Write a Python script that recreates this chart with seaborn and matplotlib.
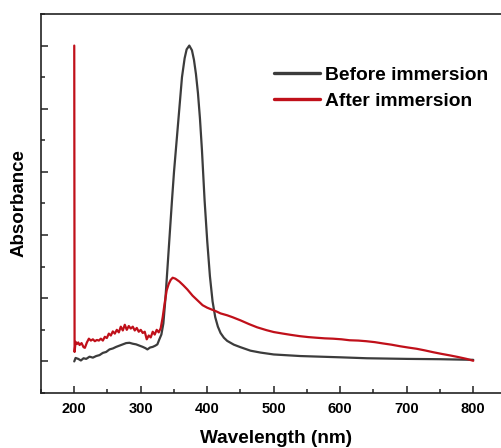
import matplotlib
matplotlib.use("Agg")
import matplotlib.pyplot as plt
from matplotlib.ticker import MultipleLocator, NullFormatter
from matplotlib.font_manager import FontProperties
import seaborn as sns
import pandas as pd

# ---- data ----
black_wl = [200, 202, 206, 210, 214, 218, 223, 228, 233, 238, 243, 248, 253, 258, 263, 268, 273, 278,
            283, 288, 293, 298, 303, 307, 310, 314, 318, 322, 325, 328, 331, 334, 337, 340, 343, 347,
            350, 354, 358, 362, 366, 369, 373, 377, 380, 383, 386, 389, 392, 396, 400, 404, 408, 412, 416,
            420, 425, 430, 440, 450, 465, 480, 500, 540, 600, 640, 700, 750, 800]
black_abs = [0.0, 0.011, 0.008, 0.003, 0.010, 0.008, 0.015, 0.012, 0.017, 0.020, 0.027, 0.030,
             0.038, 0.041, 0.046, 0.050, 0.054, 0.058, 0.059, 0.056, 0.054, 0.050, 0.046, 0.042,
             0.038, 0.044, 0.046, 0.050, 0.054, 0.070, 0.085, 0.12, 0.196, 0.29, 0.385, 0.511,
             0.60, 0.70, 0.80, 0.90, 0.96, 0.988, 1.0, 0.985, 0.955, 0.91, 0.85, 0.77, 0.67,
             0.51, 0.38, 0.27, 0.19, 0.14, 0.11, 0.09, 0.075, 0.065, 0.053, 0.045, 0.034,
             0.028, 0.022, 0.017, 0.013, 0.010, 0.008, 0.007, 0.005]

red_wl = [200, 200.5, 202, 204, 206, 208, 211, 214, 216, 219, 222, 225, 228, 231, 234, 237, 240, 243,
          246, 249, 252, 255, 258, 261, 264, 267, 270, 273, 276, 279, 282, 285, 288, 291, 294, 297,
          300, 303, 306, 309, 312, 315, 318, 321, 324, 327, 330, 333, 336, 339, 342, 345, 348, 352,
          358, 364, 370, 378, 386, 393, 400, 407, 413, 420, 430, 438, 450, 463, 475, 489, 500, 514,
          526, 539, 552, 564, 577, 589, 602, 614, 627, 639, 652, 664, 677, 690, 702, 715, 727, 740,
          752, 765, 777, 790, 800]
red_abs = [1.0, 0.03, 0.062, 0.055, 0.060, 0.052, 0.058, 0.045, 0.043, 0.060, 0.072, 0.066,
           0.070, 0.064, 0.068, 0.066, 0.072, 0.066, 0.078, 0.074, 0.088, 0.082, 0.095, 0.088,
           0.100, 0.092, 0.110, 0.098, 0.116, 0.100, 0.112, 0.104, 0.110, 0.098, 0.106, 0.094,
           0.100, 0.090, 0.094, 0.070, 0.082, 0.076, 0.094, 0.085, 0.100, 0.092, 0.105, 0.140,
           0.185, 0.225, 0.245, 0.258, 0.265, 0.262, 0.253, 0.241, 0.228, 0.208, 0.192, 0.178,
           0.170, 0.164, 0.159, 0.152, 0.146, 0.140, 0.130, 0.118, 0.108, 0.099, 0.093, 0.088,
           0.084, 0.080, 0.077, 0.075, 0.073, 0.072, 0.070, 0.067, 0.066, 0.064, 0.061, 0.057,
           0.053, 0.048, 0.044, 0.040, 0.035, 0.029, 0.024, 0.019, 0.014, 0.008, 0.002]

series_names = ["Before immersion", "After immersion"]
series_colors = ["#3c3c3c", "#c0101a"]
x_ticks = [200, 300, 400, 500, 600, 700, 800]
x_label = "Wavelength (nm)"
y_label = "Absorbance"

# ---- style ----
sns.set_theme(style="ticks")
plt.rcParams["font.family"] = ["Liberation Sans", "DejaVu Sans"]
plt.rcParams["font.weight"] = "bold"

def fp(size):
    return FontProperties(family="Liberation Sans", weight="bold", size=size)

fig = plt.figure(figsize=(5.02, 4.48), dpi=100)
fig.patch.set_facecolor("white")
ax = fig.add_axes([41 / 502, 55 / 448, 465.5 / 502, 379 / 448])

df_b = pd.DataFrame({"wl": black_wl, "abs": black_abs})
df_r = pd.DataFrame({"wl": red_wl, "abs": red_abs})
sns.lineplot(data=df_b, x="wl", y="abs", ax=ax, color=series_colors[0], linewidth=1.6,
             label=series_names[0], estimator=None)
sns.lineplot(data=df_r, x="wl", y="abs", ax=ax, color=series_colors[1], linewidth=1.6,
             label=series_names[1], estimator=None)

ax.set_xlim(150, 850)
ax.set_ylim(-0.1, 1.1)
ax.set_xticks(x_ticks)
ax.set_xticklabels([str(v) for v in x_ticks])
for lab in ax.get_xticklabels():
    lab.set_fontproperties(fp(10.5))
    lab.set_color("black")
ax.xaxis.set_minor_locator(MultipleLocator(50))
ax.yaxis.set_major_locator(MultipleLocator(0.2))
ax.yaxis.set_minor_locator(MultipleLocator(0.1))
ax.yaxis.set_major_formatter(NullFormatter())

ax.tick_params(axis="both", which="major", direction="in", length=5, width=1.1, color="#222222")
ax.tick_params(axis="both", which="minor", direction="in", length=3, width=1.1, color="#222222")
ax.tick_params(axis="x", which="major", pad=6.5)
ax.tick_params(axis="y", left=True, right=False)
ax.tick_params(axis="x", top=False)

for s in ax.spines.values():
    s.set_linewidth(1.2)
    s.set_color("#222222")

ax.set_xlabel(x_label, fontproperties=fp(13.7), color="black")
ax.set_ylabel(y_label, fontproperties=fp(13.5), color="black")
ax.xaxis.set_label_coords(0.504, -0.098)
ax.yaxis.set_label_coords(-0.030, 0.5)
ax.xaxis.label.set_va("top")

leg = ax.legend(loc="center left", bbox_to_anchor=(0.5005, 0.805), frameon=False,
                prop=fp(13.9), handlelength=2.4, handletextpad=0.25, labelspacing=0.45,
                borderpad=0, borderaxespad=0)
for t in leg.get_texts():
    t.set_fontproperties(fp(13.9))
    t.set_color("black")
for ln in leg.get_lines():
    ln.set_linewidth(2.4)

fig.savefig("out.png", dpi=100, facecolor="white")
